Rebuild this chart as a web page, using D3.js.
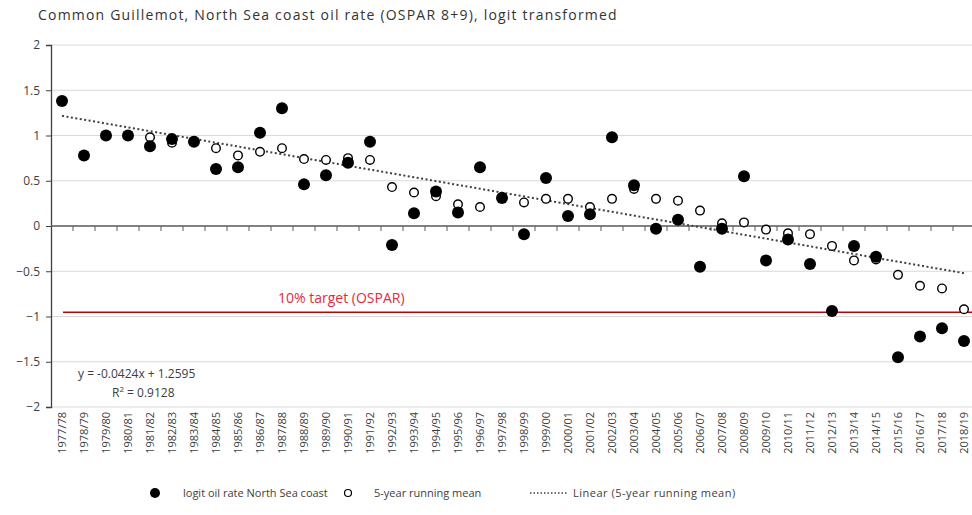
<!DOCTYPE html>
<html>
<head>
  <meta charset="utf-8">
  <title>Common Guillemot oil rate</title>
  <style>
    body { margin: 0; background: #fff; }
    svg { display: block; font-family: "Open Sans", "Liberation Sans", sans-serif; }
  </style>
</head>
<body>
  <script src="https://d3js.org/d3.v7.min.js"></script>
  <script>
// seasons on the x axis
var seasons = ["1977/78","1978/79","1979/80","1980/81","1981/82","1982/83","1983/84","1984/85",
  "1985/86","1986/87","1987/88","1988/89","1989/90","1990/91","1991/92","1992/93","1993/94",
  "1994/95","1995/96","1996/97","1997/98","1998/99","1999/00","2000/01","2001/02","2002/03",
  "2003/04","2004/05","2005/06","2006/07","2007/08","2008/09","2009/10","2010/11","2011/12",
  "2012/13","2013/14","2014/15","2015/16","2016/17","2017/18","2018/19"];

// logit oil rate North Sea coast
var logitRate = [1.38,0.78,1.0,1.0,0.88,0.96,0.93,0.63,0.65,1.03,1.30,0.46,0.56,0.70,0.93,-0.21,
  0.14,0.38,0.15,0.65,0.31,-0.09,0.53,0.11,0.13,0.98,0.45,-0.03,0.07,-0.45,-0.03,0.55,-0.38,
  -0.15,-0.42,-0.94,-0.22,-0.34,-1.45,-1.22,-1.13,-1.27];

// 5-year running mean (starts at 5th season)
var runningMean = [null,null,null,null,0.98,0.92,0.94,0.86,0.78,0.82,0.86,0.74,0.73,0.75,0.73,
  0.43,0.37,0.33,0.24,0.21,0.32,0.26,0.30,0.30,0.21,0.30,0.41,0.30,0.28,0.17,0.03,0.04,-0.04,
  -0.08,-0.09,-0.22,-0.38,-0.37,-0.54,-0.66,-0.69,-0.92];

var yTicks = [2, 1.5, 1, 0.5, 0, -0.5, -1, -1.5, -2];
var trendSlope = -0.0424, trendIntercept = 1.2595, trendR2 = 0.9128;
var targetValue = -0.954; // logit of 10%

var W = 972, H = 515;
var svg = d3.select("body").append("svg").attr("width", W).attr("height", H);

var x = d3.scaleBand().domain(seasons).range([51, 975]);
var y = d3.scaleLinear().domain([-2, 2]).range([407, 45]);
var cx = function(s) { return x(s) + x.bandwidth() / 2; };

// title
svg.append("text")
  .attr("x", 38).attr("y", 20)
  .attr("font-size", 14).attr("fill", "#333")
  .attr("letter-spacing", 1.2)
  .text("Common Guillemot, North Sea coast oil rate (OSPAR 8+9), logit transformed");

// gridlines
svg.append("g").selectAll("line")
  .data(yTicks.filter(function(d) { return d !== 0; }))
  .enter().append("line")
  .attr("x1", 51).attr("x2", W)
  .attr("y1", function(d) { return y(d); })
  .attr("y2", function(d) { return y(d); })
  .attr("stroke", "#d9d9d9").attr("stroke-width", 1);

// y axis
var yAxis = svg.append("g")
  .attr("transform", "translate(51,0)")
  .call(d3.axisLeft(y).tickValues(yTicks).tickSize(5).tickFormat(d3.format("")));
yAxis.select(".domain").attr("stroke", "#404040").attr("stroke-width", 1.3);
yAxis.selectAll(".tick line").attr("stroke", "#404040");
yAxis.selectAll("text").attr("font-size", 12).attr("fill", "#404040")
  .attr("font-family", "Open Sans, sans-serif").attr("x", -11);

// zero line with category tick marks
svg.append("line")
  .attr("x1", 51).attr("x2", W)
  .attr("y1", y(0)).attr("y2", y(0))
  .attr("stroke", "#595959").attr("stroke-width", 1.5);
svg.append("g").selectAll("line")
  .data(seasons.slice(1))
  .enter().append("line")
  .attr("x1", function(s) { return x(s); })
  .attr("x2", function(s) { return x(s); })
  .attr("y1", y(0)).attr("y2", y(0) + 5)
  .attr("stroke", "#595959").attr("stroke-width", 1);

// x labels, rotated
svg.append("g").selectAll("text")
  .data(seasons)
  .enter().append("text")
  .attr("transform", function(s) { return "translate(" + (cx(s) + 4) + ",412) rotate(-90)"; })
  .attr("text-anchor", "end")
  .attr("font-size", 11).attr("fill", "#404040")
  .text(function(s) { return s; });

// target line
svg.append("line")
  .attr("x1", 63).attr("x2", W)
  .attr("y1", y(targetValue)).attr("y2", y(targetValue))
  .attr("stroke", "#c00000").attr("stroke-width", 1.5);
svg.append("text")
  .attr("x", 278).attr("y", y(targetValue) - 9)
  .attr("font-size", 14).attr("fill", "#e8283a")
  .text("10% target (OSPAR)");

// trendline over categories 1..n
var trendData = seasons.map(function(s, i) { return { s: s, v: trendIntercept + trendSlope * (i + 1) }; });
svg.append("path")
  .datum([trendData[0], trendData[trendData.length - 1]])
  .attr("d", d3.line().x(function(d) { return cx(d.s); }).y(function(d) { return y(d.v); }))
  .attr("fill", "none").attr("stroke", "#404040")
  .attr("stroke-width", 2).attr("stroke-dasharray", "2,2.5");

// running mean, open circles
svg.append("g").selectAll("circle")
  .data(seasons.map(function(s, i) { return { s: s, v: runningMean[i] }; }).filter(function(d) { return d.v !== null; }))
  .enter().append("circle")
  .attr("cx", function(d) { return cx(d.s); })
  .attr("cy", function(d) { return y(d.v); })
  .attr("r", 4.3)
  .attr("fill", "#fff").attr("stroke", "#000").attr("stroke-width", 1.4);

// logit rate, filled dots
svg.append("g").selectAll("circle")
  .data(seasons.map(function(s, i) { return { s: s, v: logitRate[i] }; }))
  .enter().append("circle")
  .attr("cx", function(d) { return cx(d.s); })
  .attr("cy", function(d) { return y(d.v); })
  .attr("r", 6)
  .attr("fill", "#000");

// trend equation
svg.append("text")
  .attr("x", 78).attr("y", 378)
  .attr("font-size", 12).attr("fill", "#404040")
  .text("y = " + trendSlope + "x + " + trendIntercept);
var r2 = svg.append("text")
  .attr("x", 112).attr("y", 397)
  .attr("font-size", 12).attr("fill", "#404040");
r2.append("tspan").text("R");
r2.append("tspan").attr("font-size", 8).attr("dy", -5).text("2");
r2.append("tspan").attr("dy", 5).text(" = " + trendR2);

// legend
var legY = 493;
var leg = svg.append("g").attr("font-size", 11).attr("fill", "#404040");
leg.append("circle").attr("cx", 155).attr("cy", legY).attr("r", 5).attr("fill", "#000");
leg.append("text").attr("x", 183).attr("y", legY + 4).text("logit oil rate North Sea coast");
leg.append("circle").attr("cx", 348).attr("cy", legY).attr("r", 3.5)
  .attr("fill", "#fff").attr("stroke", "#000").attr("stroke-width", 1.2);
leg.append("text").attr("x", 374).attr("y", legY + 4).text("5-year running mean");
leg.append("line").attr("x1", 530).attr("x2", 568).attr("y1", legY).attr("y2", legY)
  .attr("stroke", "#404040").attr("stroke-width", 1.5).attr("stroke-dasharray", "1.5,2");
leg.append("text").attr("x", 573).attr("y", legY + 4).attr("letter-spacing", 0.5)
  .text("Linear (5-year running mean)");
  </script>
</body>
</html>
